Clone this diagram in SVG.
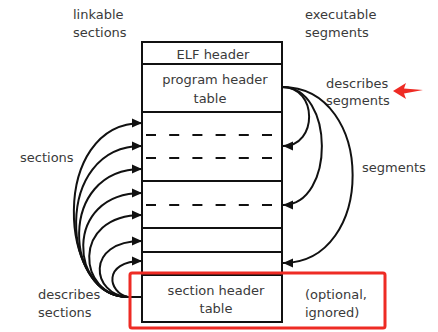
<svg xmlns="http://www.w3.org/2000/svg" width="438" height="332" viewBox="0 0 438 332">
  <style>
    .lbl { font-family: "DejaVu Sans", "Liberation Sans", sans-serif; font-size: 13px; fill: #3a3a3a; }
    .mid { text-anchor: middle; }
    .box { fill: #fff; stroke: #111; stroke-width: 2; }
    .rule { stroke: #111; stroke-width: 2; }
    .dash { stroke: #111; stroke-width: 2; stroke-dasharray: 10 13.2; }
    .link { fill: none; stroke: #111; stroke-width: 2; marker-end: url(#tip); }
    .hl { fill: none; stroke: #ee2b24; stroke-width: 3; }
  </style>
  <defs>
    <marker id="tip" viewBox="0 0 10 10" refX="10" refY="5" markerWidth="11" markerHeight="10" markerUnits="userSpaceOnUse" orient="auto">
      <path d="M0,0.5 L10,5 L0,9.5 z" fill="#111"/>
    </marker>
  </defs>

  <rect width="438" height="332" fill="#fff"/>

  <!-- column headings -->
  <g id="linkable-heading">
    <text class="lbl" x="73" y="19">linkable</text>
    <text class="lbl" x="73" y="37">sections</text>
  </g>
  <g id="executable-heading">
    <text class="lbl" x="305" y="19">executable</text>
    <text class="lbl" x="305" y="37">segments</text>
  </g>

  <!-- file layout -->
  <g id="elf-file">
    <rect class="box" x="142" y="42" width="140" height="280"/>
    <line class="rule" x1="142" y1="64" x2="282" y2="64"/>
    <line class="rule" x1="142" y1="112" x2="282" y2="112"/>
    <line class="dash" x1="146" y1="135" x2="272" y2="135"/>
    <line class="dash" x1="146" y1="158" x2="272" y2="158"/>
    <line class="rule" x1="142" y1="181" x2="282" y2="181"/>
    <line class="dash" x1="146" y1="205" x2="272" y2="205"/>
    <line class="rule" x1="142" y1="228" x2="282" y2="228"/>
    <line class="rule" x1="142" y1="252" x2="282" y2="252"/>
    <line class="rule" x1="142" y1="275" x2="282" y2="275"/>
  </g>
  <g id="elf-header">
    <text class="lbl mid" x="213" y="58.5">ELF header</text>
  </g>
  <g id="program-header-table">
    <text class="lbl mid" x="215" y="84">program header</text>
    <text class="lbl mid" x="210" y="103">table</text>
  </g>
  <g id="section-header-table">
    <text class="lbl mid" x="216" y="295">section header</text>
    <text class="lbl mid" x="216" y="313">table</text>
  </g>

  <!-- side notes -->
  <g id="describes-segments">
    <text class="lbl" x="326" y="88">describes</text>
    <text class="lbl" x="326" y="105">segments</text>
  </g>
  <g id="segments-note">
    <text class="lbl" x="362" y="172">segments</text>
  </g>
  <g id="sections-note">
    <text class="lbl" x="20" y="162">sections</text>
  </g>
  <g id="describes-sections">
    <text class="lbl" x="38" y="299">describes</text>
    <text class="lbl" x="38" y="317">sections</text>
  </g>
  <g id="optional-note">
    <text class="lbl" x="305" y="299">(optional,</text>
    <text class="lbl" x="305" y="317">ignored)</text>
  </g>

  <!-- connectors -->
  <g id="connectors">
    <!-- section header table to each section -->
    <line class="rule" x1="142" y1="297" x2="127" y2="297"/>
    <path class="link" d="M128,297 C58,297 49,123 142,123"/>
    <path class="link" d="M128,297 C61,297 52,146 142,146"/>
    <path class="link" d="M128,297 C65,297 56,169 142,169"/>
    <path class="link" d="M128,297 C70,297 62,193 142,193"/>
    <path class="link" d="M128,297 C78,297 70,215 142,215"/>
    <path class="link" d="M128,297 C92,295 84,241 142,241"/>
    <path class="link" d="M128,297 C108,293 102,261 142,261"/>
    <!-- program header table to each segment -->
    <path class="link" d="M282,87 C318,87 318,146 283,146"/>
    <path class="link" d="M282,87 C335,87 335,205 283,205"/>
    <path class="link" d="M282,87 C376,87 376,263 283,263"/>
  </g>

  <!-- highlight marks -->
  <g id="highlight">
    <rect class="hl" x="130" y="273" width="255" height="55" rx="2"/>
    <path d="M393,91 L406,83 L404,88.5 L423,90 L404,93.5 L406,99 z" fill="#ee2b24"/>
  </g>
</svg>
